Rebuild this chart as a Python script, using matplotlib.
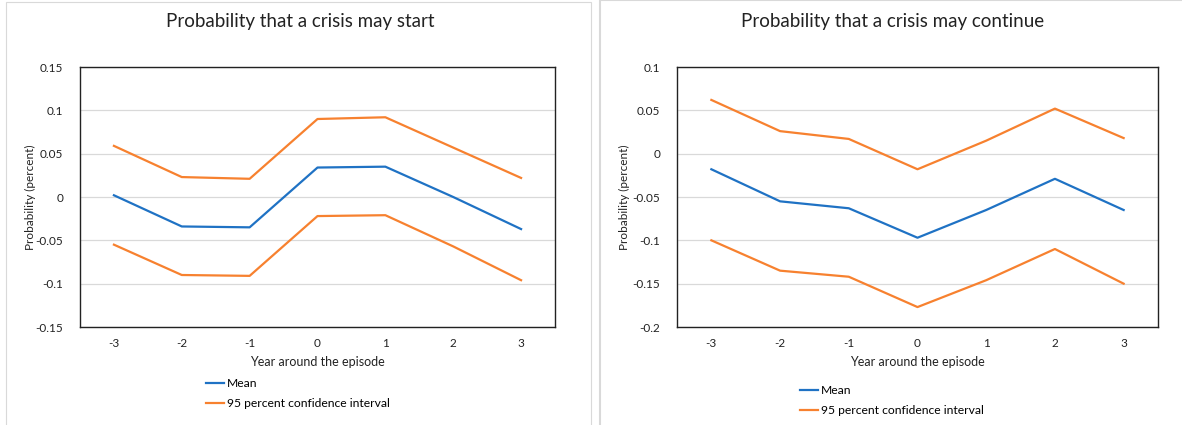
import matplotlib.pyplot as plt
from matplotlib.patches import Rectangle

plt.rcParams['font.family'] = ['Lato', 'DejaVu Sans']

years = [-3, -2, -1, 0, 1, 2, 3]

# crisis may start
start_upper = [0.059, 0.023, 0.021, 0.090, 0.092, 0.057, 0.022]
start_mean = [0.002, -0.034, -0.035, 0.034, 0.035, 0.000, -0.037]
start_lower = [-0.055, -0.090, -0.091, -0.022, -0.021, -0.057, -0.096]
start_ticks = [-0.15, -0.1, -0.05, 0, 0.05, 0.1, 0.15]
start_ticklabels = ['-0.15', '-0.1', '-0.05', '0', '0.05', '0.1', '0.15']

# crisis may continue
cont_upper = [0.062, 0.026, 0.017, -0.018, 0.015, 0.052, 0.018]
cont_mean = [-0.018, -0.055, -0.063, -0.097, -0.065, -0.029, -0.065]
cont_lower = [-0.100, -0.135, -0.142, -0.177, -0.146, -0.110, -0.150]
cont_ticks = [-0.2, -0.15, -0.1, -0.05, 0, 0.05, 0.1]
cont_ticklabels = ['-0.2', '-0.15', '-0.1', '-0.05', '0', '0.05', '0.1']

BLUE = '#1F72C4'
ORANGE = '#F7812F'

W, H = 1182, 425
fig = plt.figure(figsize=(W / 100, H / 100), dpi=100)

# light frames around each chart
fig.patches.append(Rectangle((6 / W, -0.1), 585 / W, 1.1 - 2 / H, transform=fig.transFigure,
                             fill=False, edgecolor='#d9d9d9', linewidth=0.8))
fig.patches.append(Rectangle((600 / W, -0.1), 600 / W, 1.1, transform=fig.transFigure,
                             fill=False, edgecolor='#d9d9d9', linewidth=1.5))


def panel(rect, title, title_x, upper, mean, lower, ticks, ticklabels, ylabel_x, legend_xy):
    ax = fig.add_axes(rect)
    ax.plot(years, mean, color=BLUE, linewidth=1.6, label='Mean')
    ax.plot(years, upper, color=ORANGE, linewidth=1.6, label='95 percent confidence interval')
    ax.plot(years, lower, color=ORANGE, linewidth=1.6)
    ax.set_xlim(-3.5, 3.5)
    ax.set_ylim(ticks[0], ticks[-1])
    ax.set_xticks(years)
    ax.set_xticklabels([str(y) for y in years])
    ax.set_yticks(ticks)
    ax.set_yticklabels(ticklabels)
    ax.tick_params(length=0, labelsize=8.5, pad=12, colors='#222222')
    ax.tick_params(axis='x', pad=8)
    ax.grid(axis='y', color='#d9d9d9', linewidth=0.9)
    ax.set_axisbelow(True)
    for s in ax.spines.values():
        s.set_color('#222222')
        s.set_linewidth(1.0)
    ax.set_xlabel('Year around the episode', fontsize=9, labelpad=5, color='#222222')
    fig.text(ylabel_x / W, 1 - 197 / H, 'Probability (percent)', rotation=90,
             ha='center', va='center', fontsize=8.5, color='#222222')
    fig.text(title_x / W, 1 - 22 / H, title, ha='center', va='center', fontsize=13.5, color='#222222')
    fig.legend(handles=ax.get_lines()[:2], loc='upper left',
               bbox_to_anchor=(legend_xy[0] / W, 1 - legend_xy[1] / H),
               frameon=False, fontsize=8.7, handlelength=1.5, handletextpad=0.2,
               labelspacing=0.75, borderpad=0, borderaxespad=0)
    return ax


panel([80 / W, 98 / H, 475 / W, 260 / H], 'Probability that a crisis may start', 300,
      start_upper, start_mean, start_lower, start_ticks, start_ticklabels, 30, (206, 378))
panel([677 / W, 98 / H, 481 / W, 260 / H], 'Probability that a crisis may continue', 893,
      cont_upper, cont_mean, cont_lower, cont_ticks, cont_ticklabels, 624, (800, 385))

fig.savefig('out.png', dpi=100)
